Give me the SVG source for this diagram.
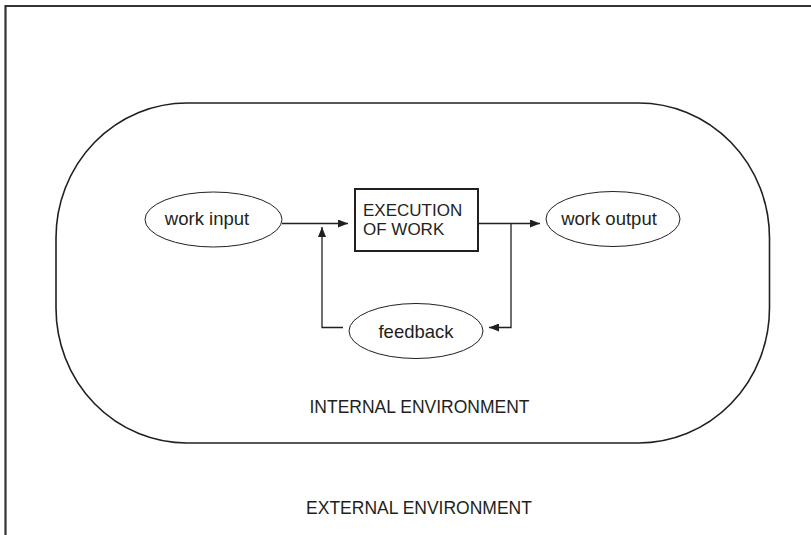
<svg xmlns="http://www.w3.org/2000/svg" width="811" height="535" viewBox="0 0 811 535">
<style>
text{font-family:"Liberation Sans",Arial,sans-serif;fill:#231f20;}
.lbl{font-size:17.5px;}
.box{font-size:17px;}
.low{font-size:18.5px;}
.ell{fill:#fff;stroke:#231f20;stroke-width:1;}
.con{fill:none;stroke:#231f20;stroke-width:1.3;}
</style>
<defs>
<marker id="arr" viewBox="0 0 10 8" refX="10" refY="4" markerWidth="10" markerHeight="8" markerUnits="userSpaceOnUse" orient="auto">
<path d="M0,0 L10,4 L0,8 Z" fill="#231f20"/>
</marker>
</defs>
<rect width="811" height="535" fill="#fff"/>
<g id="external">
<path d="M5.5,535 V6 H811" fill="none" stroke="#333" stroke-width="2.2"/>
<text class="lbl" x="419" y="514" text-anchor="middle">EXTERNAL ENVIRONMENT</text>
</g>
<g id="internal">
<rect x="56" y="103" width="713.5" height="340" rx="131" ry="135" fill="none" stroke="#231f20" stroke-width="1.6"/>
<text class="lbl" x="419.5" y="413" text-anchor="middle">INTERNAL ENVIRONMENT</text>
</g>
<g id="connectors">
<line class="con" x1="282" y1="223.5" x2="348" y2="223.5" marker-end="url(#arr)"/>
<line class="con" x1="478" y1="223.5" x2="540" y2="223.5" marker-end="url(#arr)"/>
<polyline class="con" points="511,223.5 511,327.5 489,327.5" marker-end="url(#arr)"/>
<polyline class="con" points="343,327.5 322,327.5 322,227" marker-end="url(#arr)"/>
</g>
<g id="work-input">
<ellipse class="ell" cx="213.5" cy="219.5" rx="68.5" ry="27.5"/>
<text class="low" x="207" y="225" text-anchor="middle">work input</text>
</g>
<g id="execution">
<rect x="355" y="189" width="123" height="62" fill="#fff" stroke="#231f20" stroke-width="2"/>
<text class="box" x="363" y="216">EXECUTION</text>
<text class="box" x="363" y="235">OF WORK</text>
</g>
<g id="work-output">
<ellipse class="ell" cx="613" cy="219" rx="67" ry="27.5"/>
<text class="low" x="609" y="225" text-anchor="middle">work output</text>
</g>
<g id="feedback">
<ellipse class="ell" cx="416" cy="331" rx="67" ry="27.5"/>
<text class="low" x="416" y="337.5" text-anchor="middle">feedback</text>
</g>
</svg>
